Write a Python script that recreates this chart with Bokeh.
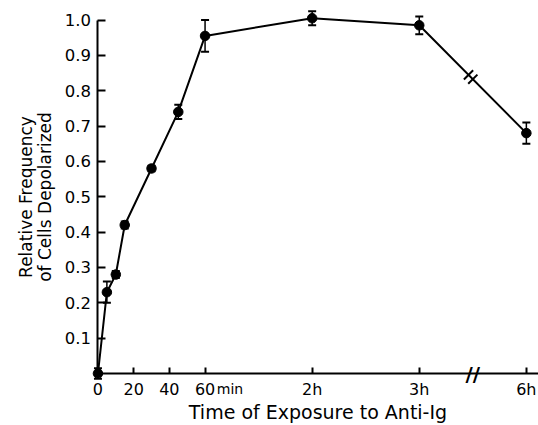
from bokeh.plotting import figure
from bokeh.models import (Range1d, FixedTicker, Whisker, ColumnDataSource, TeeHead,
                          LinearAxis)
from bokeh.embed import file_html
from bokeh.resources import INLINE
import math

# Data (6 h is drawn at the 240-min position, after an axis break)
minutes = [0, 5, 10, 15, 30, 45, 60, 120, 180, 240]
freq = [0.0, 0.23, 0.28, 0.42, 0.58, 0.74, 0.955, 1.005, 0.985, 0.68]
err = [0.015, 0.03, 0.01, 0.01, 0.008, 0.02, 0.045, 0.02, 0.025, 0.03]
x_ticks = [0, 20, 40, 60, 120, 180, 240]
x_tick_labels = ["0", "20", "40", "60", "2h", "3h", "6h"]
y_ticks = [0.1, 0.2, 0.3, 0.4, 0.5, 0.6, 0.7, 0.8, 0.9, 1.0]
y_tick_labels = ["0.1", "0.2", "0.3", "0.4", "0.5", "0.6", "0.7", "0.8", "0.9", "1.0"]
break_at = (minutes[-2] + minutes[-1]) / 2   # axis break between 3 h and 6 h

FONT = "DejaVu Sans"
# frame covers the whole canvas; axes are placed at x=0 / y=0 inside it
X0, X1 = -54.6, 246.8
Y0, Y1 = -0.1471, 1.0552

p = figure(width=538, height=425, output_backend="svg", toolbar_location=None,
           x_range=Range1d(X0, X1), y_range=Range1d(Y0, Y1),
           x_axis_location=None, y_axis_location=None, title_location=None,
           min_border=0)
p.outline_line_color = None
p.grid.visible = False
p.background_fill_color = "white"

src = ColumnDataSource(dict(x=minutes, y=freq,
                            lo=[f - e for f, e in zip(freq, err)],
                            hi=[f + e for f, e in zip(freq, err)]))

p.line("x", "y", source=src, line_color="black", line_width=2)
w = Whisker(base="x", lower="lo", upper="hi", source=src, line_color="black", line_width=1.5,
            upper_head=TeeHead(size=8, line_color="black", line_width=2),
            lower_head=TeeHead(size=8, line_color="black", line_width=2))
p.add_layout(w)
p.scatter("x", "y", source=src, size=9.5, fill_color="black", line_color="black")

# break marks on the data line between 3 h and 6 h
x0, x1 = minutes[-2], minutes[-1]
y0, y1 = freq[-2], freq[-1]
fr = [0.46, 0.50]
p.scatter([x0 + f * (x1 - x0) for f in fr], [y0 + f * (y1 - y0) for f in fr],
          marker="dash", size=13, angle=math.pi / 4, line_color="black", line_width=2)


def style(ax):
    ax.axis_line_width = 2
    ax.axis_line_color = "black"
    ax.major_tick_line_width = 2
    ax.major_tick_line_color = "black"
    ax.minor_tick_line_color = None
    ax.major_label_text_font = FONT
    ax.major_label_text_color = "black"
    ax.axis_label_text_font = FONT
    ax.axis_label_text_font_style = "normal"
    ax.axis_label_text_color = "black"


# main x axis
xa = LinearAxis(fixed_location=0, bounds=(0, X1))
style(xa)
xa.ticker = FixedTicker(ticks=x_ticks)
xa.major_label_overrides = {t: l for t, l in zip(x_ticks, x_tick_labels)}
xa.major_tick_in = 6
xa.major_tick_out = 0
xa.major_label_standoff = 6
xa.major_label_text_font_size = "16px"
xa.axis_label = "Time of Exposure to Anti-Ig"
xa.axis_label_text_font_size = "19px"
xa.axis_label_standoff = -1
p.add_layout(xa, "below")

# "min" unit after 60
ua = LinearAxis(fixed_location=0)
style(ua)
ua.axis_line_color = None
ua.major_tick_line_color = None
ua.ticker = FixedTicker(ticks=[x_ticks[3] + 14])
ua.major_label_overrides = {x_ticks[3] + 14: "min"}
ua.major_label_standoff = 1
ua.major_label_text_font_size = "14px"
p.add_layout(ua, "below")

# axis break mark
ba = LinearAxis(fixed_location=0)
style(ba)
ba.axis_line_color = None
ba.major_tick_line_color = None
ba.ticker = FixedTicker(ticks=[break_at])
ba.major_label_overrides = {break_at: "//"}
ba.major_label_standoff = -18
ba.major_label_text_font_size = "20px"
ba.major_label_text_font_style = "bold"
p.add_layout(ba, "below")

# y axis
ya = LinearAxis(fixed_location=0, bounds=(0, 1.0))
style(ya)
ya.ticker = FixedTicker(ticks=y_ticks)
ya.major_label_overrides = {t: l for t, l in zip(y_ticks, y_tick_labels)}
ya.major_tick_in = 8
ya.major_tick_out = 0
ya.major_label_standoff = 7
ya.major_label_text_font_size = "16.5px"
ya.axis_label = "Relative Frequency\nof Cells Depolarized"
ya.axis_label_text_font_size = "17px"
ya.axis_label_text_line_height = 0.95
ya.axis_label_standoff = 6
p.add_layout(ya, "left")

open("out.html", "w").write(file_html(p, INLINE))
